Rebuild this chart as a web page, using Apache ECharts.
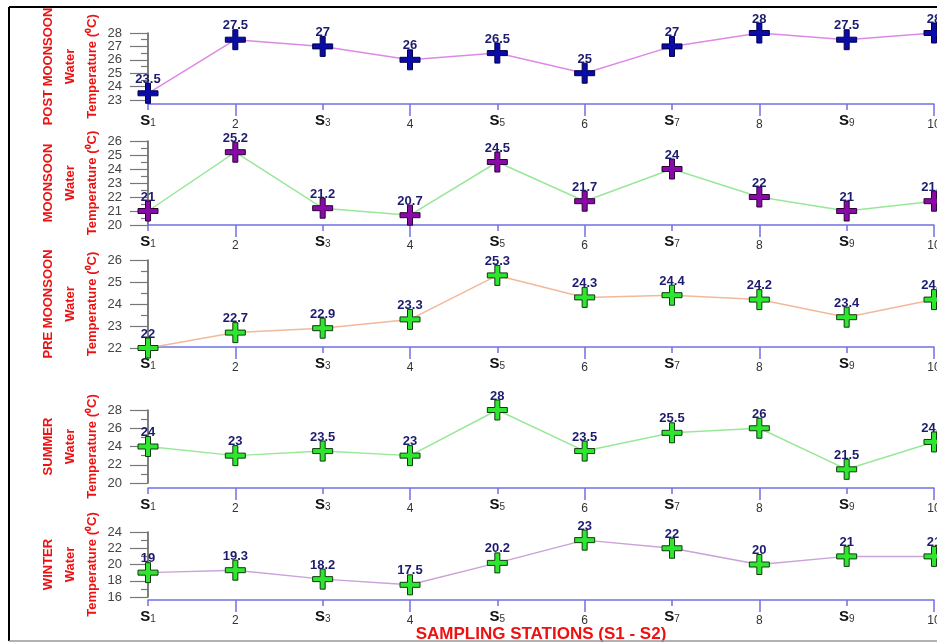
<!DOCTYPE html>
<html>
<head>
<meta charset="utf-8">
<script src="https://cdn.jsdelivr.net/npm/echarts@6/dist/echarts.min.js"></script>
<style>
html,body{margin:0;padding:0;background:#fff;}
#chart{width:937px;height:643px;}
</style>
</head>
<body>
<div id="chart"></div>
<script>
// ---- data ----
const stations = ['S1', '2', 'S3', '4', 'S5', '6', 'S7', '8', 'S9', '10'];
const postMonsoon = [23.5, 27.5, 27, 26, 26.5, 25, 27, 28, 27.5, 28];
const monsoon = [21, 25.2, 21.2, 20.7, 24.5, 21.7, 24, 22, 21, 21.7];
const preMonsoon = [22, 22.7, 22.9, 23.3, 25.3, 24.3, 24.4, 24.2, 23.4, 24.2];
const summer = [24, 23, 23.5, 23, 28, 23.5, 25.5, 26, 21.5, 24.5];
const winter = [19, 19.3, 18.2, 17.5, 20.2, 23, 22, 20, 21, 21];
const seasonNames = ['POST MOONSOON', 'MOONSOON', 'PRE MOONSOON', 'SUMMER', 'WINTER'];
const yMins = [23, 20, 22, 20, 16];
const yMaxs = [28, 26, 26, 28, 24];
const yIntervals = [1, 1, 1, 2, 2];
const xTitle = 'SAMPLING STATIONS (S1 - S2)';

// ---- styling / layout ----
const seriesData = [postMonsoon, monsoon, preMonsoon, summer, winter];
const panels = [
  {top: 33, height: 67, xOffset: 4, line: '#dd8ae6', fill: '#0b0ba8', border: '#00004a'},
  {top: 141, height: 84, xOffset: 0, line: '#98e898', fill: '#8a0aa8', border: '#2a0036'},
  {top: 260, height: 88, xOffset: -1, line: '#f2b89c', fill: '#2ee62e', border: '#0f3a0f'},
  {top: 410, height: 73, xOffset: 5, line: '#98e898', fill: '#2ee62e', border: '#0f3a0f'},
  {top: 532, height: 65, xOffset: 3, line: '#c9a2d8', fill: '#2ee62e', border: '#0f3a0f'}
];
const plusPath = 'path://M7.5,0 H12.5 V7.5 H20 V12.5 H12.5 V20 H7.5 V12.5 H0 V7.5 H7.5 Z';
const FONT = 'Arial, "Liberation Sans", sans-serif';

const grid = [], xAxis = [], yAxis = [], series = [];
panels.forEach((p, i) => {
  grid.push({left: 148, right: 3, top: p.top, height: p.height, outerBoundsMode: 'none', containLabel: false});
  const mainX = {
    type: 'category', gridIndex: i, data: stations, boundaryGap: false, position: 'bottom', offset: p.xOffset,
    axisLine: {show: true, lineStyle: {color: '#7070e6', width: 1.5}},
    axisTick: {show: true, length: 6, alignWithLabel: true, lineStyle: {color: '#7070e6', width: 1.5}},
    axisLabel: {
      show: true, margin: 9, interval: 0, fontFamily: FONT,
      formatter: v => v.charAt(0) === 'S' ? '{s|S}{n|' + v.slice(1) + '}' : '{e|' + v + '}',
      rich: {
        s: {fontSize: 15, fontWeight: 'bold', color: '#111', fontFamily: FONT},
        n: {fontSize: 10, color: '#333', fontFamily: FONT, padding: [5, 0, 0, 0]},
        e: {fontSize: 12, color: '#333', fontFamily: FONT, padding: [6, 0, 0, 0]}
      }
    },
    splitLine: {show: false}
  };
  if (i === 4) {
    mainX.name = xTitle;
    mainX.nameLocation = 'middle';
    mainX.nameGap = 26;
    mainX.nameMoveOverlap = false;
    mainX.nameTextStyle = {color: '#ee1111', fontWeight: 'bold', fontSize: 17, fontFamily: FONT};
  }
  xAxis.push(mainX);
  xAxis.push({
    type: 'category', gridIndex: i, data: stations, boundaryGap: false, position: 'bottom', offset: p.xOffset,
    axisLine: {show: false},
    axisTick: {show: true, length: 12, interval: (idx) => idx % 2 === 1, lineStyle: {color: '#7070e6', width: 1.5}},
    axisLabel: {show: false},
    splitLine: {show: false}
  });
  yAxis.push({
    type: 'value', gridIndex: i, min: yMins[i], max: yMaxs[i], interval: yIntervals[i],
    name: seasonNames[i] + '\nWater\nTemperature (\u2070C)',
    nameLocation: 'middle', nameRotate: 90, nameGap: 45, nameMoveOverlap: false,
    nameTextStyle: {color: '#ee1111', fontWeight: 'bold', fontSize: 13, lineHeight: 22, fontFamily: FONT},
    axisLine: {show: true, lineStyle: {color: '#555', width: 1.5}},
    axisTick: {show: true, length: 18, lineStyle: {color: '#777', width: 1.2}},
    minorTick: {show: true, splitNumber: 2, length: 7, lineStyle: {color: '#777', width: 1.2}},
    axisLabel: {margin: 26, fontSize: 13, color: '#444', fontFamily: FONT},
    splitLine: {show: false}
  });
  series.push({
    type: 'line', xAxisIndex: i * 2, yAxisIndex: i, data: seriesData[i],
    symbol: plusPath, symbolSize: 20, z: 5,
    lineStyle: {color: p.line, width: 1.5},
    itemStyle: {color: p.fill, borderColor: p.border, borderWidth: 1},
    label: {show: true, position: 'top', distance: -3, color: '#1c1c6e', fontWeight: 'bold', fontSize: 13, fontFamily: FONT},
    emphasis: {disabled: true},
    animation: false
  });
});

const chart = echarts.init(document.getElementById('chart'), null, {renderer: 'canvas'});
chart.setOption({
  animation: false,
  backgroundColor: '#fff',
  grid, xAxis, yAxis, series,
  graphic: [
    {type: 'line', shape: {x1: 9, y1: 7, x2: 937, y2: 7}, style: {stroke: '#000', lineWidth: 2}, z: 10},
    {type: 'line', shape: {x1: 9, y1: 7, x2: 9, y2: 641}, style: {stroke: '#000', lineWidth: 2}, z: 10},
    {type: 'line', shape: {x1: 9, y1: 641, x2: 937, y2: 641}, style: {stroke: '#999', lineWidth: 1.5}, z: 10}
  ]
});
</script>
</body>
</html>
